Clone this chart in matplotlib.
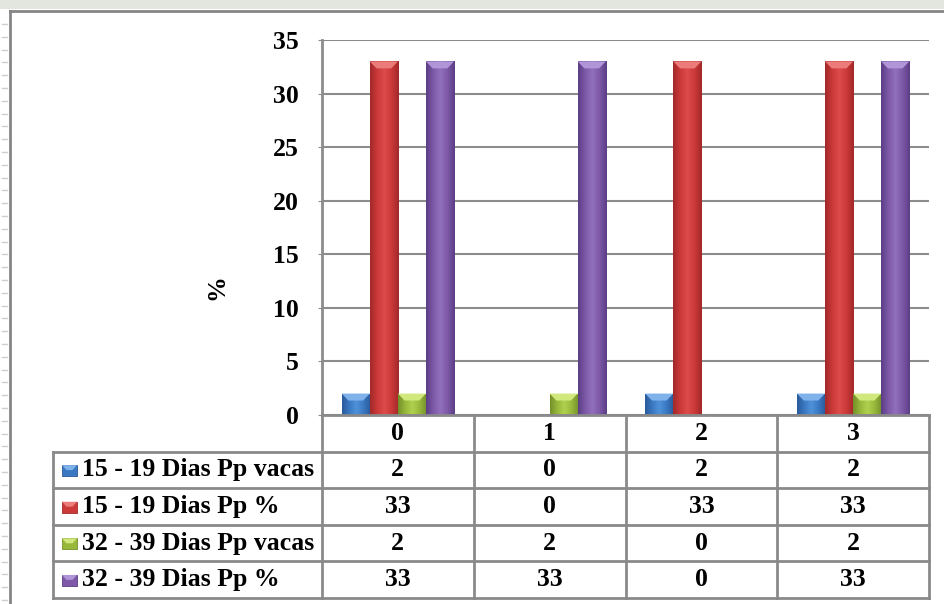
import numpy as np
import matplotlib.pyplot as plt
from matplotlib.colors import LinearSegmentedColormap
from matplotlib.patches import Polygon, Rectangle
from matplotlib.lines import Line2D

plt.rcParams['font.family'] = ['Liberation Serif', 'DejaVu Serif']
plt.rcParams['font.weight'] = 'bold'

categories = ['0', '1', '2', '3']
series_names = [
    '15 - 19 Dias Pp vacas',
    '15 - 19 Dias Pp %',
    '32 - 39 Dias Pp vacas',
    '32 - 39 Dias Pp %',
]
vacas_15_19 = [2, 0, 2, 2]
pct_15_19 = [33, 0, 33, 33]
vacas_32_39 = [2, 2, 0, 2]
pct_32_39 = [33, 33, 0, 33]
series_values = [vacas_15_19, pct_15_19, vacas_32_39, pct_32_39]
y_ticks = [0, 5, 10, 15, 20, 25, 30, 35]

# (dark edge, body, highlight, bevel cap)
shades = [
    ('#2a5a9a', '#3a78c2', '#5092da', '#7fb2ea'),
    ('#a2292a', '#cb3a38', '#dc4c4a', '#ec7c7a'),
    ('#74902a', '#98b83c', '#b0d04e', '#d0e87c'),
    ('#5c3e84', '#7d59a8', '#9170be', '#b095d8'),
]

FS = 18.5
W, H = 945, 604
fig = plt.figure(figsize=(W / 100, H / 100), dpi=100)


def px_box(left, top, right, bottom):
    return [left / W, 1 - bottom / H, (right - left) / W, (bottom - top) / H]


# plot area
ax = fig.add_axes(px_box(322, 40, 929, 415))
n = len(series_values)
bw = 0.185
x = np.arange(len(categories))

for i, (vals, (dark, body, light, cap)) in enumerate(zip(series_values, shades)):
    off = (i - (n - 1) / 2) * bw
    bars = ax.bar(x + off, vals, width=bw, color=body, zorder=3, linewidth=0)
    cmap = LinearSegmentedColormap.from_list('b%d' % i, [dark, body, light, body, dark])
    for rect, v in zip(bars, vals):
        if v <= 0:
            continue
        x0 = rect.get_x()
        x1 = x0 + rect.get_width()
        img = ax.imshow(np.linspace(0, 1, 64)[None, :], cmap=cmap,
                        extent=[x0, x1, 0, v], aspect='auto', zorder=4)
        img.set_clip_path(rect)
        dx = 0.24 * (x1 - x0)
        dy = min(0.65, v * 0.45)
        ax.add_patch(Polygon([(x0, v), (x1, v), (x1 - dx, v - dy), (x0 + dx, v - dy)],
                             closed=True, facecolor=cap, edgecolor='none', zorder=5))

ax.set_xlim(-0.5, len(categories) - 0.5)
ax.set_ylim(0, 35)
ax.set_yticks(y_ticks)
ax.set_yticklabels([str(t) for t in y_ticks], fontsize=FS, fontweight='bold')
ax.set_xticks([])
ax.grid(axis='y', color='#8c8c8c', linewidth=1.5, zorder=0)
for s in ['top', 'right', 'bottom']:
    ax.spines[s].set_visible(False)
ax.spines['left'].set_color('#8c8c8c')
ax.spines['left'].set_linewidth(2)
ax.tick_params(axis='y', length=3, color='#8c8c8c', pad=14)
ax.set_ylabel('%', fontsize=FS, fontweight='bold')
ax.yaxis.set_label_coords(-0.155, 0.34)

# data table under the plot
px_per_cat = (929 - 322) / len(categories)
x_left = -0.5 - (322 - 53) / px_per_cat
tab = fig.add_axes(px_box(53, 415, 929, 598))
tab.set_xlim(x_left, len(categories) - 0.5)
tab.set_ylim(len(series_values) + 1, 0)
tab.axis('off')

gcol = '#8a8a8a'
xr = len(categories) - 0.5
nrows = len(series_values) + 1
tab.add_line(Line2D([-0.5, xr], [0, 0], color=gcol, lw=2, clip_on=False))
for r in range(1, nrows + 1):
    tab.add_line(Line2D([x_left, xr], [r, r], color=gcol, lw=2, clip_on=False))
for k in range(len(categories) + 1):
    tab.add_line(Line2D([-0.5 + k, -0.5 + k], [0, nrows], color=gcol, lw=2, clip_on=False))
tab.add_line(Line2D([x_left, x_left], [1, nrows], color=gcol, lw=2, clip_on=False))

for c, lab in enumerate(categories):
    tab.text(c, 0.5, lab, ha='center', va='center', fontsize=FS, fontweight='bold')

key_w = 15 / px_per_cat
key_h = 0.3
for r, (name, vals, (dark, body, light, cap)) in enumerate(
        zip(series_names, series_values, shades), start=1):
    kx = x_left + 9 / px_per_cat
    ky = r + 0.52 - key_h / 2
    tab.add_patch(Rectangle((kx, ky), key_w, key_h, facecolor=body,
                            edgecolor=dark, lw=0.6))
    tab.add_patch(Polygon([(kx, ky), (kx + key_w, ky),
                           (kx + key_w * 0.7, ky + key_h * 0.45),
                           (kx + key_w * 0.3, ky + key_h * 0.45)],
                          closed=True, facecolor=cap, edgecolor='none'))
    tab.text(x_left + 29 / px_per_cat, r + 0.5, name, ha='left', va='center',
             fontsize=FS, fontweight='bold')
    for c, v in enumerate(vals):
        tab.text(c, r + 0.5, str(v), ha='center', va='center',
                 fontsize=FS, fontweight='bold')

# outer chart frame and page decorations
fig.add_artist(Rectangle((0, 1 - 9 / H), 1, 9 / H, transform=fig.transFigure,
                         facecolor='#e3e6df', edgecolor='none'))
fig.add_artist(Line2D([10 / W, 10 / W], [0, 1 - 11 / H], color='#858585', lw=2))
fig.add_artist(Line2D([10 / W, 1], [1 - 11 / H, 1 - 11 / H], color='#858585', lw=2))
for yy in np.arange(24, H, 12.8):
    fig.add_artist(Line2D([2 / W, 7 / W], [1 - yy / H, 1 - yy / H],
                          color='#cfcfcf', lw=1))

fig.savefig('out.png', dpi=100)
